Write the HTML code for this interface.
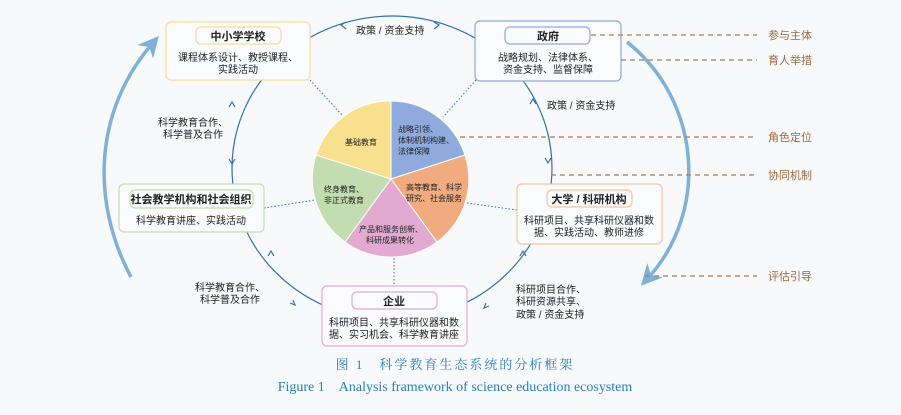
<!DOCTYPE html>
<html><head><meta charset="utf-8"><style>
body{margin:0;background:#f8f9fb;}
svg{display:block}
text{font-family:"Liberation Sans","Noto Sans CJK SC",sans-serif;fill:#222;}
.b{font-weight:bold;font-size:11px}
.s{font-size:10px}
.p{font-size:8px}
.l{font-size:11px;fill:#9a6a40}
</style></head><body>
<svg width="901" height="415" viewBox="0 0 901 415">
<defs>
<marker id="ah" viewBox="0 0 10 10" refX="5" refY="5" markerWidth="6" markerHeight="6" orient="auto"><path d="M0,0L10,5L0,10L3,5z" fill="#7fb0d8"/></marker>
</defs>
<!-- main ellipse -->
<ellipse cx="392" cy="168" rx="160" ry="152" fill="none" stroke="#2f6fb3" stroke-width="1.2"/>
<!-- chevrons -->
<g fill="none" stroke="#2f6fb3" stroke-width="1.2">
<path d="M346,22l-5,3 5,4"/><path d="M434,22l5,3-5,4"/>
<path d="M229,107l3,-5 3,5"/><path d="M229,159l3,5 3,-5"/>
<path d="M530,104l3,-5 3,5"/><path d="M545,158l3,5 3,-5"/>
<path d="M268,256l3,-5 3,5"/><path d="M290,303l5,2-2,-5"/>
<path d="M520,256l3,-5 3,5"/><path d="M489,306l-5,2 2,-5"/>
</g>
<!-- dotted spokes -->
<g stroke="#2f6fb3" stroke-width="1" stroke-dasharray="1.5,2" fill="none">
<line x1="310" y1="80" x2="342" y2="115"/>
<line x1="476" y1="80" x2="443" y2="117"/>
<line x1="264" y1="208" x2="315" y2="200"/>
<line x1="517" y1="210" x2="467" y2="203"/>
<line x1="394" y1="258" x2="394" y2="286"/>
</g>
<!-- pie -->
<g stroke="#fff" stroke-width="1">
<path d="M391,179L391,101A78,78 0 0 1 465,155Z" fill="#8faadc"/>
<path d="M391,179L465,155A78,78 0 0 1 437,242Z" fill="#f0ac7e"/>
<path d="M391,179L437,242A78,78 0 0 1 345,242Z" fill="#e2aad0"/>
<path d="M391,179L345,242A78,78 0 0 1 316,155Z" fill="#c3dcb0"/>
<path d="M391,179L316,155A78,78 0 0 1 391,101Z" fill="#f8e08e"/>
</g>
<text class="p" x="345" y="145">基础教育</text>
<text class="p" x="398" y="132">战略引领、</text>
<text class="p" x="398" y="143">体制机制构建、</text>
<text class="p" x="398" y="154">法律保障</text>
<text class="p" x="406" y="190">高等教育、科学</text>
<text class="p" x="406" y="201">研究、社会服务</text>
<text class="p" x="324" y="192">终身教育、</text>
<text class="p" x="324" y="203">非正式教育</text>
<text class="p" x="359" y="232">产品和服务创新、</text>
<text class="p" x="366" y="243">科研成果转化</text>
<!-- boxes -->
<g fill="#fafbfc" stroke-width="1.2">
<rect x="166" y="22" width="144" height="58" rx="5" stroke="#f5dc98"/>
<rect x="196" y="27" width="85" height="17" rx="5" stroke="#f5dc98"/>
<rect x="475" y="21" width="146" height="60" rx="5" stroke="#8faadc"/>
<rect x="505" y="27" width="85" height="17" rx="5" stroke="#8faadc"/>
<rect x="119" y="184" width="145" height="48" rx="5" stroke="#c3dcb0"/>
<rect x="130" y="190" width="123" height="18" rx="5" stroke="#c3dcb0"/>
<rect x="517" y="184" width="145" height="60" rx="5" stroke="#f3c4a2"/>
<rect x="547" y="190" width="85" height="17" rx="5" stroke="#f3c4a2"/>
<rect x="322" y="286" width="145" height="60" rx="5" stroke="#e2aad0"/>
<rect x="352" y="292" width="85" height="17" rx="5" stroke="#e2aad0"/>
</g>
<g text-anchor="middle">
<text class="b" x="238" y="40">中小学学校</text>
<text class="s" x="238" y="61">课程体系设计、教授课程、</text>
<text class="s" x="238" y="73">实践活动</text>
<text class="b" x="548" y="40">政府</text>
<text class="s" x="548" y="61">战略规划、法律体系、</text>
<text class="s" x="548" y="73">资金支持、监督保障</text>
<text class="b" x="191" y="203">社会教学机构和社会组织</text>
<text class="s" x="191" y="224">科学教育讲座、实践活动</text>
<text class="b" x="589" y="203">大学 / 科研机构</text>
<text class="s" x="589" y="224">科研项目、共享科研仪器和数</text>
<text class="s" x="589" y="236">据、实践活动、教师进修</text>
<text class="b" x="394" y="305">企业</text>
<text class="s" x="394" y="326">科研项目、共享科研仪器和数</text>
<text class="s" x="394" y="338">据、实习机会、科学教育讲座</text>
</g>
<text class="s" x="356" y="34">政策 / 资金支持</text>
<text class="s" x="547" y="109">政策 / 资金支持</text>
<text class="s" x="158" y="126">科学教育合作、</text>
<text class="s" x="163" y="138">科学普及合作</text>
<text class="s" x="195" y="291">科学教育合作、</text>
<text class="s" x="200" y="303">科学普及合作</text>
<text class="s" x="516" y="293">科研项目合作、</text>
<text class="s" x="516" y="305">科研资源共享、</text>
<text class="s" x="516" y="318">政策 / 资金支持</text>
<!-- big arrows -->
<path d="M131,277C90,200 95,110 152,44" fill="none" stroke="#7fb0d8" stroke-width="3.5" marker-end="url(#ah)"/>
<path d="M627,42C700,100 710,210 648,278" fill="none" stroke="#7fb0d8" stroke-width="3.5" marker-end="url(#ah)"/>
<!-- dashed -->
<g stroke="#b07a50" stroke-width="1.2" stroke-dasharray="5,4">
<line x1="591" y1="35" x2="757" y2="35"/>
<line x1="621" y1="60" x2="757" y2="60"/>
<line x1="460" y1="137" x2="757" y2="137"/>
<line x1="551" y1="175" x2="757" y2="175"/>
<line x1="645" y1="276" x2="757" y2="276"/>
</g>
<text class="l" x="768" y="39">参与主体</text>
<text class="l" x="768" y="64">育人举措</text>
<text class="l" x="768" y="141">角色定位</text>
<text class="l" x="768" y="179">协同机制</text>
<text class="l" x="768" y="280">评估引导</text>
<text x="455" y="369" text-anchor="middle" style="font-family:'Liberation Serif','Noto Serif CJK SC',serif;font-size:13px;fill:#2a7fb8;letter-spacing:2px">图 1　科学教育生态系统的分析框架</text>
<text x="455" y="391" text-anchor="middle" style="font-family:'Liberation Serif',serif;font-size:14px;fill:#2a7fb8">Figure 1　Analysis framework of science education ecosystem</text>
</svg>
</body></html>
